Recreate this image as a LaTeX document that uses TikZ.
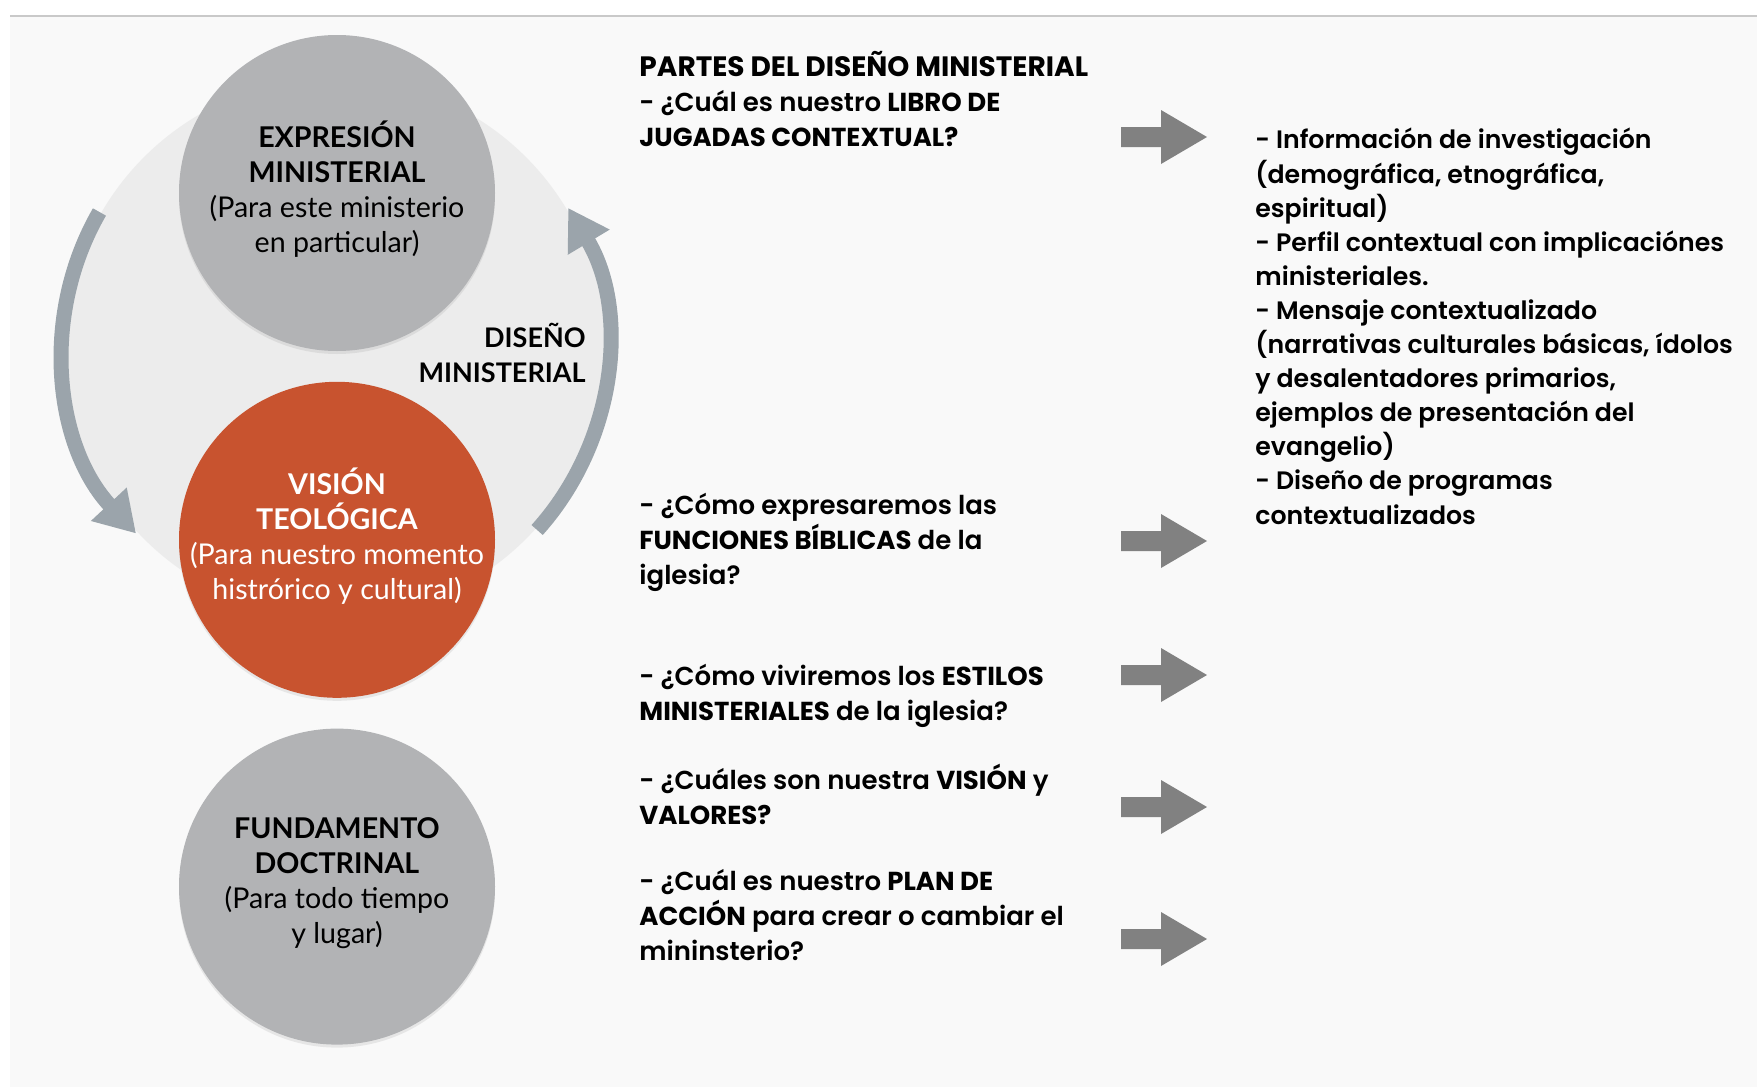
\documentclass[tikz,border=0pt]{standalone}
\usepackage{fontspec}
\setmainfont{Lato}
\newfontfamily\popfont{Poppins}[UprightFont=* SemiBold, BoldFont=* Bold]
\usetikzlibrary{arrows.meta,positioning,shadows}

\definecolor{discgray}{HTML}{B2B3B5}
\definecolor{visionred}{HTML}{C8532F}
\definecolor{ringgray}{HTML}{ECECEC}
\definecolor{cyclegray}{HTML}{9BA4AB}
\definecolor{blockgray}{HTML}{818181}
\definecolor{paper}{HTML}{F9F9F9}
\definecolor{rulegray}{HTML}{C9C9C9}

\tikzset{
  part/.style={circle, minimum size=158pt, inner sep=-30pt, align=center,
    font=\fontsize{14.3}{17.5}\selectfont,
    drop shadow={shadow xshift=0pt, shadow yshift=-1.5pt, opacity=0.15},
    execute at end node={\rule[-6pt]{0pt}{6pt}}},
  question/.style={anchor=base west, inner sep=0pt, align=left,
    font=\popfont\fontsize{13}{17.35}\selectfont},
  cyclearrow/.style={draw=cyclegray, line width=7.5pt,
    -{Triangle[length=20pt,width=23pt]}},
  blockarrow/.style={fill=blockgray},
}

\begin{document}
\begin{tikzpicture}[x=0.5pt, y=0.5pt]
\useasboundingbox (0,0) rectangle (1757,-1087);
\fill[white] (0,0) rectangle (1757,-1087);
\fill[paper] (10,-17) rectangle (1757,-1087);
\draw[rulegray, line width=1pt] (10,-15.5) -- (1757,-15.5);

% ring of the design cycle
\coordinate (ring) at (335,-348);
\fill[ringgray] (ring) circle[radius=270];
\draw[cyclearrow] ([shift={(150:272)}]ring) arc[start angle=150, end angle=223, radius=272];
\draw[cyclearrow] ([shift={(-42:272)}]ring) arc[start angle=-42, end angle=31, radius=272];

% the three parts
\node[part, fill=discgray] (expr) at (337,-193)
  {\textbf{EXPRESIÓN}\\\textbf{MINISTERIAL}\\(Para este ministerio\\en particular)};
\node[part, fill=visionred, text=white, below=15pt of expr] (vision)
  {\textbf{VISIÓN}\\\textbf{TEOLÓGICA}\\(Para nuestro momento\\histrórico y cultural)};
\node[part, fill=discgray, below=15pt of vision] (fund)
  {\textbf{FUNDAMENTO}\\\textbf{DOCTRINAL}\\(Para todo tiempo\\y lugar)};
\node[anchor=north east, inner sep=0pt, align=right, font=\bfseries\fontsize{13.5}{17.5}\selectfont]
  (design) at (586,-323) {DISEÑO\\MINISTERIAL};

% questions
\node[question] (q1) at (639,-146)
  {{\fontsize{14}{17.35}\selectfont\textbf{PARTES DEL DISEÑO MINISTERIAL}}\\- ¿Cuál es nuestro \textbf{LIBRO DE}\\\textbf{JUGADAS CONTEXTUAL?}};
\node[question] (q2) at (639,-584)
  {- ¿Cómo expresaremos las\\\textbf{FUNCIONES BÍBLICAS} de la\\iglesia?};
\node[question] (q3) at (639,-720)
  {- ¿Cómo viviremos los \textbf{ESTILOS}\\\textbf{MINISTERIALES} de la iglesia?};
\node[question] (q4) at (639,-824)
  {- ¿Cuáles son nuestra \textbf{VISIÓN} y\\\textbf{VALORES?}};
\node[question] (q5) at (639,-960)
  {- ¿Cuál es nuestro \textbf{PLAN DE}\\\textbf{ACCIÓN} para crear o cambiar el\\mininsterio?};

% block arrows
\foreach \y [count=\i] in {137,541,675,807,939}{
  \coordinate (arr\i) at (1164,-\y);
  \fill[blockarrow, shift={(arr\i)}] (-43,10) -- (-3,10) -- (-3,27) -- (43,0)
    -- (-3,-27) -- (-3,-10) -- (-43,-10) -- cycle;
}

% playbook contents
\node[question, font=\popfont\fontsize{12.6}{17.05}\selectfont] (book) at (1255,-524)
  {- Información de investigación\\(demográfica, etnográfica,\\espiritual)\\
   - Perfil contextual con implicaciónes\\ministeriales.\\
   - Mensaje contextualizado\\(narrativas culturales básicas, ídolos\\y desalentadores primarios,\\
   ejemplos de presentación del\\evangelio)\\
   - Diseño de programas\\contextualizados};
\end{tikzpicture}
\end{document}
